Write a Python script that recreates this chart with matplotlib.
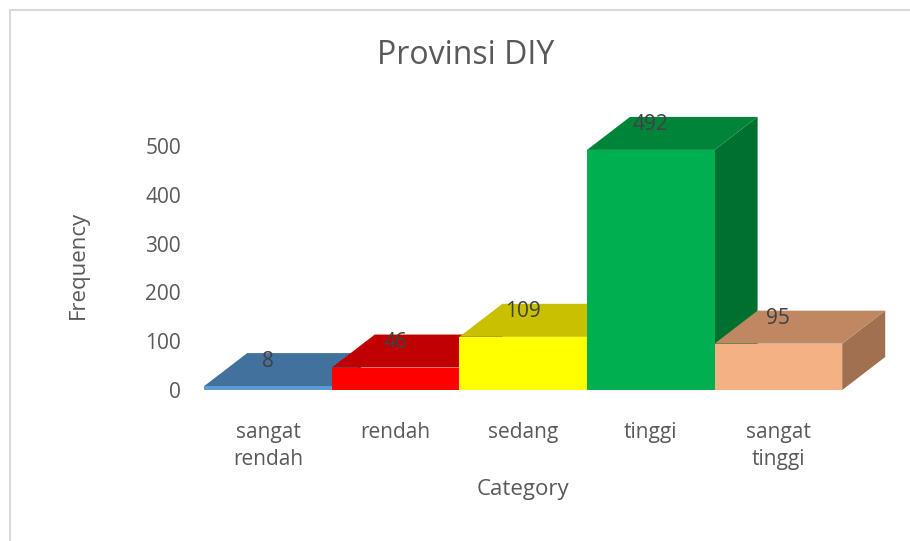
import matplotlib
matplotlib.use("Agg")
import matplotlib.pyplot as plt
from matplotlib.patches import Polygon, Rectangle
from matplotlib.lines import Line2D

plt.rcParams['font.family'] = ['Open Sans', 'DejaVu Sans']

categories = ["sangat\nrendah", "rendah", "sedang", "tinggi", "sangat\ntinggi"]
values = [8, 46, 109, 492, 95]
yticks = [0, 100, 200, 300, 400, 500]

# front, top, side colours per bar
front_cols = ["#5b9bd5", "#ff0000", "#ffff00", "#00b050", "#f4b183"]
top_cols = ["#41719c", "#c00000", "#c8c000", "#00843a", "#bf8862"]
side_cols = ["#31557a", "#a00000", "#a8a000", "#00702f", "#a07050"]

W, H = 910, 541
fig = plt.figure(figsize=(W / 100, H / 100), dpi=100, facecolor="white")

# axes placement in pixels
ax_l, ax_r, ax_b, ax_t = 195, 895, 390, 115
ax = fig.add_axes([ax_l / W, 1 - ax_b / H, (ax_r - ax_l) / W, (ax_b - ax_t) / H])
px_per_cat = 127.6
px_per_unit = 0.488
x0_px = 268
ax.set_xlim((ax_l - x0_px) / px_per_cat, (ax_r - x0_px) / px_per_cat)
ax.set_ylim(0, (ax_b - ax_t) / px_per_unit)

# 3d depth offset in data units
dx = 43 / px_per_cat
dy = 33 / px_per_unit
half = 0.5

for i, v in enumerate(values):
    l, r = i - half, i + half
    # side face
    ax.add_patch(Polygon([(r, 0), (r + dx, dy), (r + dx, v + dy), (r, v)],
                         closed=True, fc=side_cols[i], ec="none", zorder=2 + i))
    # top face
    ax.add_patch(Polygon([(l, v), (l + dx, v + dy), (r + dx, v + dy), (r, v)],
                         closed=True, fc=top_cols[i], ec="none", zorder=2 + i))
    # front face
    ax.add_patch(Rectangle((l, 0), 1, v, fc=front_cols[i], ec="none", zorder=2 + i))

for i, v in enumerate(values):
    ax.annotate(str(v), (i, v), xytext=(0, 18), textcoords="offset points",
                ha="center", va="center", fontsize=15, color="#404040", zorder=20)

ax.set_yticks(yticks)
ax.set_xticks(range(len(categories)))
ax.set_xticklabels(categories, linespacing=1.4)
ax.tick_params(axis="y", length=0, pad=10, labelsize=15, labelcolor="#595959")
ax.tick_params(axis="x", length=0, pad=23, labelsize=15, labelcolor="#595959")
for s in ax.spines.values():
    s.set_visible(False)

fig.text(523 / W, 1 - 489 / H, "Category", ha="center", va="center",
         fontsize=16, color="#595959")
fig.text(78 / W, 1 - 265 / H, "Frequency", ha="center", va="center",
         rotation=90, fontsize=16, color="#595959")
fig.text(466 / W, 1 - 55 / H, "Provinsi DIY", ha="center", va="center",
         fontsize=23, color="#595959")

# chart border
fig.add_artist(Line2D([10 / W, 10 / W], [0, 1 - 10 / H], color="#d9d9d9", lw=1.5))
fig.add_artist(Line2D([10 / W, 1], [1 - 10 / H, 1 - 10 / H], color="#d9d9d9", lw=1.5))

fig.savefig("out.png", dpi=100, facecolor="white")
